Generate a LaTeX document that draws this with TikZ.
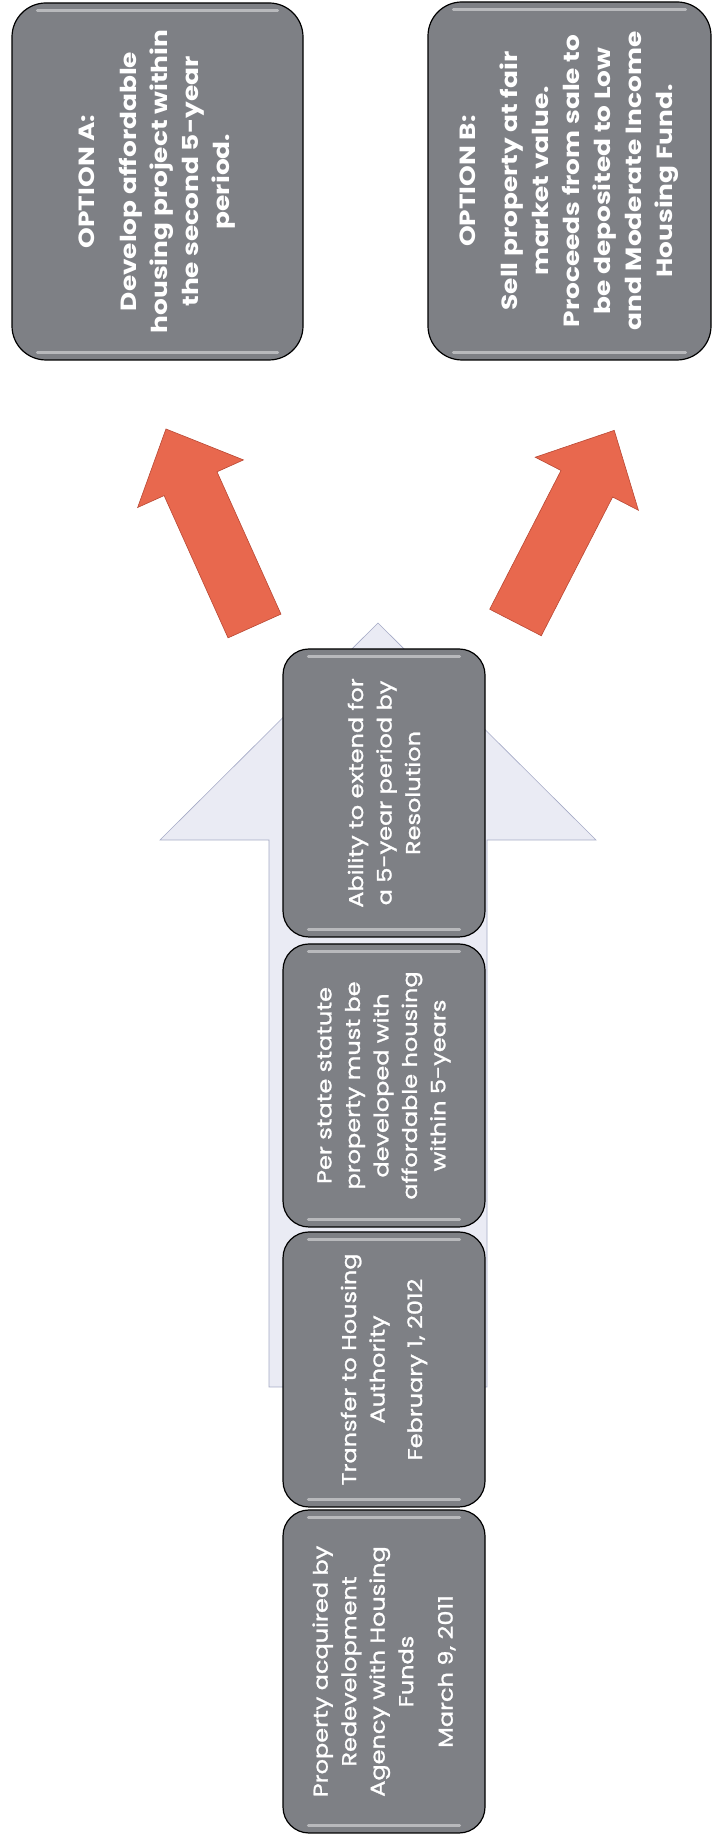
\documentclass[tikz,border=0pt]{standalone}
\usepackage{fontspec}
\setmainfont{Poppins}[FakeStretch=1.2]
\newfontfamily\stagefont{Poppins}[FakeStretch=1.2, FakeBold=1.2]
\usetikzlibrary{positioning, calc}

\definecolor{boxgray}{RGB}{126,128,133}
\definecolor{arrowred}{RGB}{232,104,78}
\definecolor{arrowedge}{RGB}{185,72,52}
\definecolor{paleblue}{RGB}{234,235,244}
\definecolor{paleedge}{RGB}{165,170,198}

\tikzset{
  stage/.style={rectangle, rounded corners=26pt, draw=black, line width=1.2pt,
    fill=boxgray, text=white, rotate=90, align=center, inner sep=0pt,
    font=\stagefont\fontsize{20}{28.5}\selectfont},
  option/.style={stage, rounded corners=34pt, font=\bfseries\fontsize{22}{31}\selectfont},
  gloss/.style={white, opacity=.45, line width=3pt, line cap=round},
  redarrow/.pic={
    \draw[fill=arrowred, draw=arrowedge, line width=0.6pt]
      (-29,0) -- (29,0) -- (29,156) -- (58,156) -- (0,216) -- (-58,156) -- (-29,156) -- cycle;
  }
}

\begin{document}
\begin{tikzpicture}[x=1pt, y=1pt]
        \fill[white] (0,0) rectangle (713,1836);
        \useasboundingbox (0,0) rectangle (713,1836);

        % Background arrow
        \draw[fill=paleblue, draw=paleedge, line width=0.6pt]
          (269,449) -- (487,449) -- (487,996) -- (596,996) -- (378,1213) -- (160,996) -- (269,996) -- cycle;

        % Stages (bottom to top)
        \node (acquired) [stage, minimum width=323pt, minimum height=202pt] at (384,164.5)
          {Property acquired by\\Redevelopment\\Agency with Housing\\Funds\\[11pt]March 9, 2011};
        \node (transfer) [stage, minimum width=275pt, minimum height=202pt] at (384,466.5)
          {Transfer to Housing\\Authority\\[9pt]February 1, 2012};
        \node (statute) [stage, minimum width=283pt, minimum height=202pt] at (384,750.5)
          {Per state statute\\property must be\\developed with\\affordable housing\\within 5-years};
        \node (extend) [stage, minimum width=288pt, minimum height=202pt] at (384,1043)
          {Ability to extend for\\a 5-year period by\\Resolution};

        % Options
        \node (optA) [option, minimum width=357pt, minimum height=291pt] at (157.5,1654.5)
          {OPTION A:\\[11pt]Develop affordable\\housing project within\\the second 5-year\\period.};
        \node (optB) [option, minimum width=358pt, minimum height=283pt] at (569.5,1655)
          {OPTION B:\\[11pt]Sell property at fair\\market value.\\Proceeds from sale to\\be deposited to Low\\and Moderate Income\\Housing Fund.};

        % Gloss on top and bottom edges
        \foreach \n in {acquired, transfer, statute, extend, optA, optB} {
          \draw[gloss] ($(\n.north east)+(26,-8)$) -- ($(\n.south east)+(-26,-8)$);
          \draw[gloss] ($(\n.north west)+(26,8)$) -- ($(\n.south west)+(-26,8)$);
        }

        % Split arrows
        \pic[rotate=24.2] at (254.5,1210) {redarrow};
        \pic[rotate=-27.2] at (515.5,1213.5) {redarrow};
\end{tikzpicture}
\end{document}
